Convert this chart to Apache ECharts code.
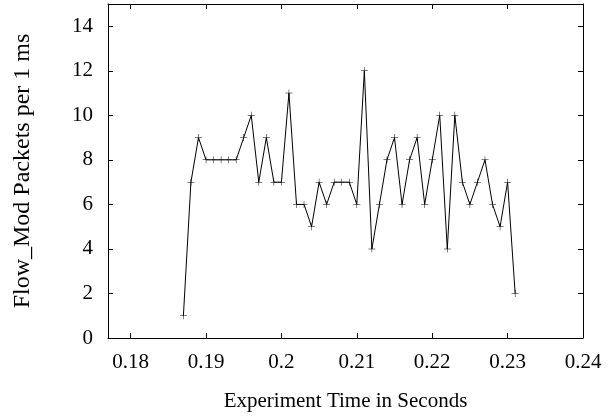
<!DOCTYPE html>
<html>
<head>
<meta charset="utf-8">
<script src="https://cdn.jsdelivr.net/npm/echarts@6/dist/echarts.min.js"></script>
<style>html,body{margin:0;padding:0;background:#fff}#c{width:608px;height:417px}</style>
</head>
<body>
<div id="c"></div>
<script>
const timesSec = [0.187,0.188,0.189,0.190,0.191,0.192,0.193,0.194,0.195,0.196,0.197,0.198,0.199,0.200,0.201,0.202,0.203,0.204,0.205,0.206,0.207,0.208,0.209,0.210,0.211,0.212,0.213,0.214,0.215,0.216,0.217,0.218,0.219,0.220,0.221,0.222,0.223,0.224,0.225,0.226,0.227,0.228,0.229,0.230,0.231];
const packets = [1,7,9,8,8,8,8,8,9,10,7,9,7,7,11,6,6,5,7,6,7,7,7,6,12,4,6,8,9,6,8,9,6,8,10,4,10,7,6,7,8,6,5,7,2];
const xTicks = [0.18,0.19,0.20,0.21,0.22,0.23,0.24];
const yTicks = [0,2,4,6,8,10,12,14];
const xTitle = 'Experiment Time in Seconds';
const yTitle = 'Flow_Mod Packets per 1 ms';

const FONT = 'Liberation Serif';
const chart = echarts.init(document.getElementById('c'), null, {renderer:'canvas'});
const axisLine = {show:true, onZero:false, lineStyle:{color:'#000', width:1}};
const tick = (vals) => ({show:true, inside:true, length:5, lineStyle:{color:'#000', width:1}, customValues: vals});
const plus = 'path://M-0.07,-1H0.07V1H-0.07Z M-1,-0.07H1V0.07H-1Z';
chart.setOption({
  animation:false,
  backgroundColor:'#fff',
  grid:{left:108, right:25, top:4, bottom:78, containLabel:false},
  xAxis:[{
    type:'value', min:0.177, max:0.24, position:'bottom',
    axisLine:axisLine, axisTick:tick(xTicks), splitLine:{show:false},
    axisLabel:{fontFamily:FONT, fontSize:21, color:'#000', margin:14, customValues:xTicks,
      formatter:(v)=>String(parseFloat(v.toFixed(3)))},
    name:xTitle, nameLocation:'middle', nameGap:53,
    nameTextStyle:{fontFamily:FONT, fontSize:21, color:'#000'}
  },{
    type:'value', min:0.177, max:0.24, position:'top',
    axisLine:axisLine, axisTick:tick(xTicks), axisLabel:{show:false}, splitLine:{show:false}
  }],
  yAxis:[{
    type:'value', min:0, max:15, position:'left',
    axisLine:axisLine, axisTick:tick(yTicks), splitLine:{show:false},
    axisLabel:{fontFamily:FONT, fontSize:21, color:'#000', margin:15, customValues:yTicks},
    name:yTitle, nameLocation:'middle', nameGap:73,
    nameTextStyle:{fontFamily:FONT, fontSize:24, color:'#000'}
  },{
    type:'value', min:0, max:15, position:'right',
    axisLine:axisLine, axisTick:tick(yTicks), axisLabel:{show:false}, splitLine:{show:false}
  }],
  series:[{
    type:'line',
    data: timesSec.map((t,i)=>[t, packets[i]]),
    symbol: plus, symbolSize:7, showAllSymbol:true,
    lineStyle:{color:'#000', width:1},
    itemStyle:{color:'#000'}
  }]
});
</script>
</body>
</html>
